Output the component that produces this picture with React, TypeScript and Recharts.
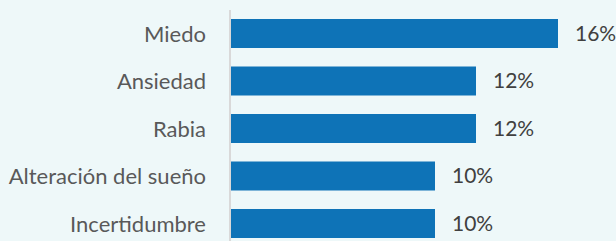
import { BarChart, Bar, XAxis, YAxis, LabelList } from 'recharts';

const categories = ['Miedo', 'Ansiedad', 'Rabia', 'Alteración del sueño', 'Incertidumbre'];
const values = [16, 12, 12, 10, 10];

const chartData = categories.map((name, i) => ({ name, value: values[i] }));

export default function App() {
  return (
    <div
      style={{
        position: 'absolute',
        left: 0,
        top: 0,
        width: 616,
        height: 241,
        background: '#eef8f9',
        overflow: 'hidden',
        fontFamily: 'Lato, sans-serif',
      }}
    >
      <BarChart
        width={616}
        height={250}
        data={chartData}
        layout="vertical"
        margin={{ top: 10, right: 17, bottom: 2.5, left: 0 }}
      >
        <XAxis type="number" domain={[0, 18]} hide />
        <YAxis
          type="category"
          dataKey="name"
          width={230}
          tickLine={false}
          tickSize={0}
          tickMargin={24}
          axisLine={{ stroke: '#d9d9d9', strokeWidth: 2 }}
          tick={{ fill: '#595959', fontSize: 22 }}
        />
        <Bar dataKey="value" fill="#0e73b7" barSize={29} isAnimationActive={false}>
          <LabelList
            dataKey="value"
            position="right"
            offset={17}
            formatter={(v: number) => `${v}%`}
            style={{ fill: '#404040', fontSize: 21 }}
          />
        </Bar>
      </BarChart>
    </div>
  );
}
